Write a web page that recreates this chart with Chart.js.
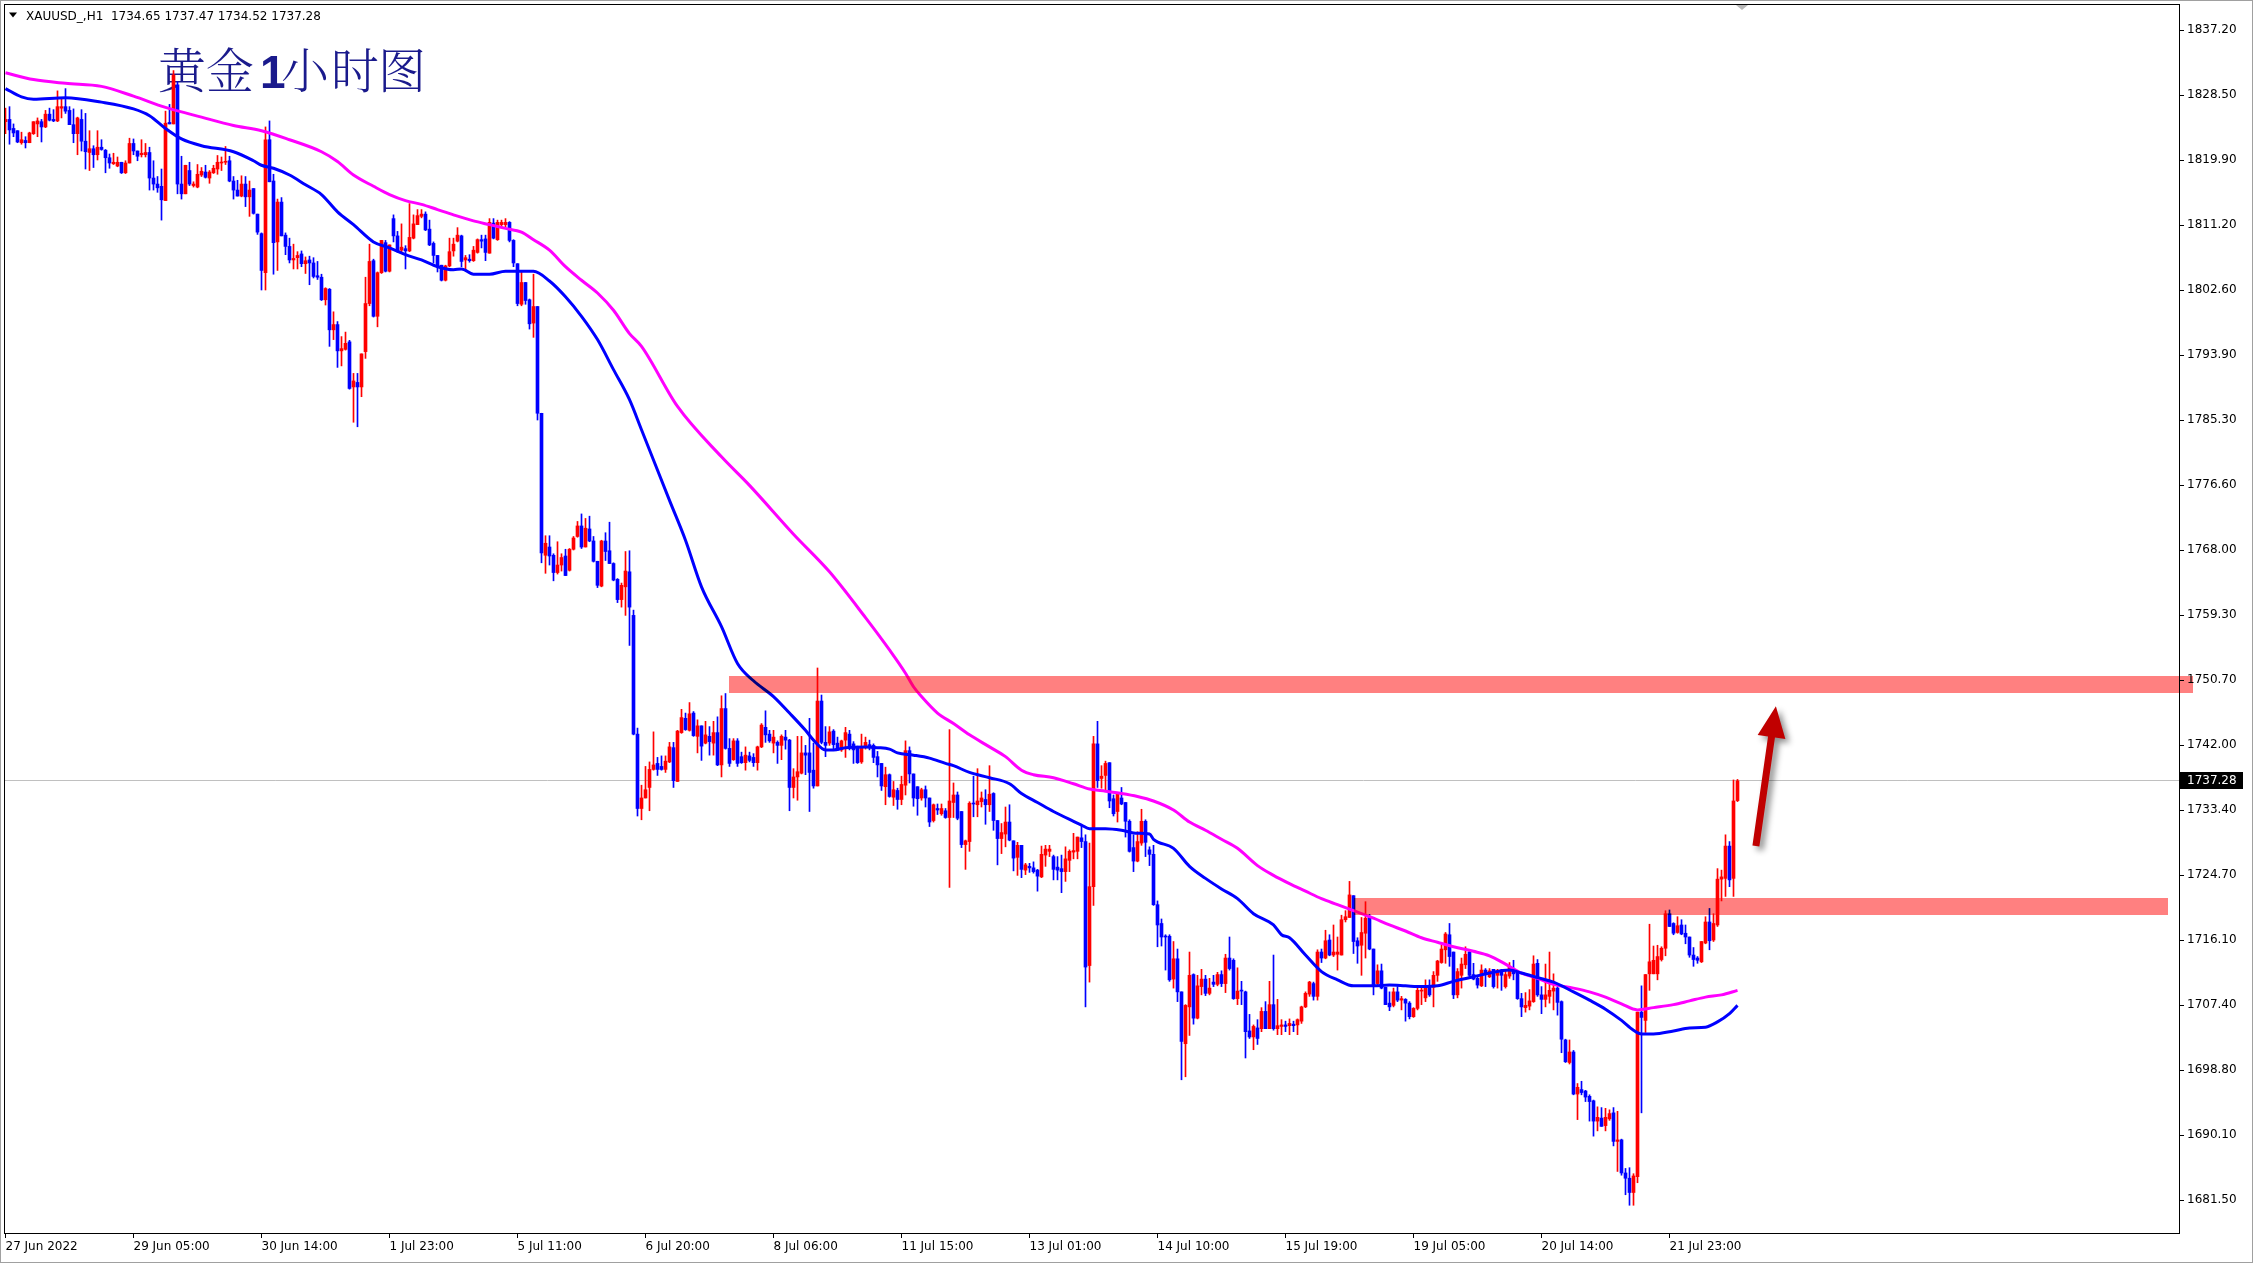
<!DOCTYPE html>
<html>
<head>
<meta charset="utf-8">
<script src="https://cdn.jsdelivr.net/npm/chart.js@4.4.0/dist/chart.umd.min.js"></script>
<style>
html,body{margin:0;padding:0;background:#fff;overflow:hidden}
#wrap{width:2253px;height:1263px;position:relative}
canvas{display:block}
</style>
</head>
<body>
<div id="wrap"><canvas id="c" width="2253" height="1263"></canvas></div>
<script>
// ---------------- DATA ----------------
const symbolInfo = "XAUUSD_,H1  1734.65 1737.47 1734.52 1737.28";
const titleText = "黄金1小时图";
const bidPrice = 1737.28;

const xTickLabels = ["27 Jun 2022","29 Jun 05:00","30 Jun 14:00","1 Jul 23:00","5 Jul 11:00","6 Jul 20:00","8 Jul 06:00","11 Jul 15:00","13 Jul 01:00","14 Jul 10:00","15 Jul 19:00","19 Jul 05:00","20 Jul 14:00","21 Jul 23:00"];
const xTickBars = [0,32,64,96,128,160,192,224,256,288,320,352,384,416];

const yTickValues = [1681.50,1690.15,1698.80,1707.45,1716.10,1724.75,1733.40,1742.05,1750.70,1759.35,1768.00,1776.65,1785.30,1793.95,1802.60,1811.25,1819.90,1828.55,1837.20];
const yTickLabels = ["1681.50","1690.10","1698.80","1707.40","1716.10","1724.70","1733.40","1742.00","1750.70","1759.30","1768.00","1776.60","1785.30","1793.90","1802.60","1811.20","1819.90","1828.50","1837.20"];

const opens = [
1825.0,1825.3,1824.1,1823.8,1822.2,1822.5,1822.2,1823.4,1824.7,1825.0,
1824.3,1826.0,1825.3,1825.1,1826.8,1827.0,1826.5,1824.6,1823.4,1825.3,
1822.4,1820.9,1821.4,1820.6,1821.6,1821.2,1820.2,1819.4,1819.1,1819.6,
1818.2,1819.5,1822.1,1821.1,1820.6,1820.6,1820.9,1817.5,1816.7,1816.4,
1814.5,1824.9,1824.7,1829.9,1816.7,1815.4,1818.5,1816.5,1816.3,1817.9,
1818.3,1817.5,1818.2,1818.7,1819.5,1819.6,1819.8,1817.1,1815.9,1815.1,
1816.7,1815.0,1816.1,1812.7,1810.1,1804.9,1822.6,1817.1,1809.0,1814.3,
1809.9,1808.4,1806.6,1806.9,1807.4,1806.1,1806.6,1806.2,1804.5,1804.3,
1801.3,1802.7,1797.3,1798.0,1794.5,1794.7,1795.7,1789.7,1790.3,1789.7,
1794.4,1800.8,1806.5,1799.1,1804.9,1808.9,1805.1,1812.1,1809.8,1807.9,
1808.1,1807.8,1809.5,1811.3,1812.4,1812.7,1810.7,1808.8,1807.2,1805.9,
1803.9,1805.8,1807.8,1809.1,1809.8,1806.6,1806.7,1806.5,1807.6,1809.3,
1809.4,1807.5,1811.5,1809.3,1811.3,1811.3,1811.6,1809.2,1806.1,1800.7,
1803.6,1801.3,1798.2,1800.4,1786.2,1767.3,1768.4,1767.3,1765.0,1766.0,
1767.2,1765.3,1768.1,1769.8,1771.2,1768.4,1770.8,1769.2,1766.5,1763.2,
1769.2,1767.9,1766.2,1764.1,1761.4,1763.1,1765.1,1759.3,1743.5,1733.6,
1735.0,1736.4,1738.8,1739.6,1739.2,1738.8,1739.8,1741.7,1737.2,1743.7,
1745.6,1744.0,1746.3,1743.2,1744.6,1742.3,1743.2,1742.3,1743.7,1739.4,
1746.9,1741.6,1740.1,1742.6,1740.5,1739.7,1740.6,1740.4,1739.7,1741.8,
1744.4,1743.5,1742.3,1742.4,1742.0,1743.1,1742.7,1736.4,1737.8,1738.3,
1741.0,1741.0,1738.7,1736.6,1747.9,1742.4,1742.3,1743.9,1742.3,1741.4,
1742.7,1743.5,1742.2,1741.8,1739.8,1741.7,1742.1,1742.0,1740.5,1739.6,
1736.5,1738.1,1735.1,1736.0,1734.8,1736.7,1741.3,1738.2,1736.5,1735.0,
1736.1,1735.0,1732.0,1733.6,1732.9,1733.3,1732.4,1734.4,1735.4,1733.2,
1728.8,1729.2,1734.3,1734.1,1734.5,1734.8,1734.1,1735.6,1732.0,1729.6,
1730.2,1731.8,1729.3,1727.1,1728.7,1725.4,1725.9,1725.7,1725.4,1724.5,
1727.4,1727.9,1727.2,1725.8,1725.6,1725.2,1726.7,1727.8,1727.9,1729.7,
1729.2,1712.7,1723.2,1742.2,1737.6,1738.0,1739.7,1734.9,1733.2,1735.0,
1734.4,1731.9,1728.4,1726.6,1729.0,1731.9,1728.1,1727.5,1720.8,1718.3,
1716.6,1716.6,1710.9,1713.6,1709.2,1702.3,1707.2,1711.5,1705.7,1709.9,
1710.9,1709.0,1710.5,1710.2,1711.5,1710.3,1713.7,1713.4,1708.3,1709.4,
1709.2,1704.0,1703.2,1704.4,1704.3,1706.6,1704.3,1707.5,1704.3,1704.6,
1704.8,1704.7,1704.9,1704.8,1705.3,1707.2,1708.9,1710.3,1708.6,1714.5,
1713.7,1716.1,1714.1,1714.2,1714.1,1718.8,1719.1,1722.0,1716.0,1715.4,
1717.0,1719.2,1714.9,1710.3,1712.0,1709.8,1707.7,1707.4,1709.2,1708.1,
1708.2,1707.7,1705.9,1707.0,1709.3,1708.4,1709.8,1709.8,1711.4,1713.1,
1714.8,1716.8,1714.5,1708.8,1711.4,1712.8,1714.5,1711.5,1711.0,1710.0,
1712.1,1711.2,1712.2,1711.4,1712.1,1709.9,1711.3,1712.2,1711.7,1708.3,
1707.1,1707.3,1707.9,1713.0,1708.8,1708.2,1708.6,1709.3,1709.7,1707.9,
1702.8,1699.8,1701.2,1695.6,1696.2,1696.0,1695.3,1694.7,1692.0,1692.4,
1691.4,1692.3,1693.1,1689.3,1689.5,1685.1,1684.4,1682.5,1684.6,1706.5,
1705.4,1711.6,1711.6,1711.6,1713.5,1715.0,1719.6,1718.3,1717.1,1718.1,
1717.0,1716.5,1714.1,1713.7,1713.2,1715.7,1718.5,1716.1,1718.1,1724.2,
1724.3,1728.6,1724.3,1734.65
];
const highs = [
1826.8,1827.0,1824.7,1823.8,1823.6,1823.0,1823.6,1825.0,1825.5,1825.3,
1826.5,1826.8,1826.6,1829.1,1828.1,1829.4,1827.0,1826.7,1825.6,1826.6,
1826.1,1823.8,1821.8,1823.8,1822.6,1821.3,1820.7,1820.8,1820.3,1819.6,
1819.8,1822.8,1822.7,1821.1,1822.6,1822.1,1821.6,1819.8,1817.7,1818.7,
1826.4,1827.3,1831.8,1830.3,1820.4,1819.2,1819.6,1817.0,1819.3,1818.9,
1819.2,1818.5,1819.2,1820.5,1820.3,1821.7,1820.4,1817.7,1817.2,1817.8,
1817.7,1817.1,1816.1,1812.7,1810.2,1824.3,1825.1,1818.0,1814.7,1814.9,
1810.2,1809.5,1808.7,1807.7,1807.8,1807.0,1807.1,1806.9,1806.4,1804.7,
1802.9,1802.8,1799.7,1798.4,1796.4,1797.0,1795.9,1791.5,1791.5,1794.1,
1804.3,1808.7,1806.7,1805.0,1809.2,1809.2,1808.6,1812.6,1810.4,1811.4,
1808.5,1814.1,1812.6,1813.3,1813.3,1813.0,1811.9,1809.0,1807.2,1805.9,
1805.9,1809.5,1809.5,1810.9,1809.9,1807.2,1807.3,1808.4,1809.4,1809.9,
1809.9,1812.1,1812.1,1811.9,1811.9,1812.1,1811.7,1809.3,1806.1,1805.0,
1803.6,1801.4,1804.7,1800.4,1786.2,1769.9,1769.9,1767.5,1769.1,1767.5,
1768.1,1768.2,1769.8,1771.8,1772.8,1772.2,1772.5,1769.8,1766.5,1769.3,
1770.3,1771.7,1766.3,1764.2,1763.6,1767.8,1767.9,1760.0,1744.3,1736.7,
1739.2,1739.8,1743.8,1740.4,1740.6,1740.6,1742.4,1742.4,1744.0,1746.8,
1746.3,1747.7,1746.5,1745.4,1744.6,1745.2,1744.5,1745.2,1745.8,1748.6,
1748.9,1742.9,1742.9,1742.9,1741.1,1741.8,1741.1,1740.9,1741.9,1744.9,
1746.6,1744.0,1744.0,1742.6,1743.4,1744.0,1742.8,1738.9,1743.2,1743.2,
1742.0,1745.6,1742.3,1752.3,1748.7,1744.5,1744.5,1744.1,1743.1,1742.7,
1744.4,1744.0,1742.5,1741.9,1743.5,1743.1,1742.7,1742.2,1741.2,1739.6,
1739.1,1738.2,1737.2,1736.3,1737.9,1742.6,1741.8,1738.2,1736.5,1736.3,
1736.6,1735.0,1734.2,1734.2,1734.2,1733.6,1744.1,1737.0,1735.8,1733.2,
1729.4,1734.5,1737.9,1738.9,1735.8,1736.1,1739.3,1735.7,1732.0,1731.6,
1733.8,1734.1,1729.3,1729.1,1728.7,1726.3,1726.3,1726.5,1725.5,1728.6,
1728.7,1728.7,1727.4,1727.2,1727.4,1728.5,1728.1,1730.3,1729.8,1731.4,
1730.1,1729.0,1743.2,1745.2,1739.3,1739.9,1739.7,1735.4,1735.6,1736.4,
1734.4,1732.1,1730.1,1730.5,1733.5,1732.1,1728.5,1728.7,1721.3,1718.9,
1716.8,1716.8,1715.9,1714.9,1709.2,1707.5,1714.5,1711.6,1711.4,1712.2,
1711.4,1711.0,1711.4,1711.8,1712.0,1714.2,1716.5,1713.6,1712.4,1710.6,
1709.3,1706.2,1704.8,1705.5,1707.1,1707.9,1710.6,1714.1,1708.2,1705.5,
1705.3,1705.6,1705.3,1705.6,1707.3,1709.2,1710.6,1710.5,1714.8,1714.9,
1717.4,1716.8,1718.1,1716.5,1719.4,1720.0,1723.9,1722.0,1716.4,1719.1,
1721.2,1719.5,1714.9,1712.8,1712.9,1709.8,1709.2,1709.7,1709.9,1708.6,
1708.3,1707.9,1707.1,1709.9,1709.9,1710.8,1710.8,1711.9,1713.4,1715.4,
1717.1,1718.3,1714.5,1712.3,1713.7,1715.2,1714.6,1713.0,1711.4,1712.8,
1712.3,1712.3,1712.2,1712.2,1712.2,1712.0,1713.1,1713.4,1712.0,1709.0,
1709.1,1709.5,1714.0,1713.5,1709.9,1712.9,1714.5,1711.6,1709.9,1708.0,
1702.9,1702.8,1701.4,1697.0,1697.3,1696.1,1695.5,1694.8,1693.9,1693.8,
1693.7,1693.5,1693.8,1693.3,1689.6,1685.7,1685.8,1685.0,1706.5,1710.0,
1711.5,1718.2,1715.3,1715.4,1715.2,1720.0,1720.1,1718.4,1719.2,1718.8,
1718.1,1716.5,1715.1,1713.9,1715.9,1719.2,1720.3,1719.6,1725.6,1725.4,
1730.1,1729.2,1737.4,1737.47
];
const lows = [
1823.4,1822.0,1823.0,1822.2,1822.0,1821.5,1822.2,1823.3,1823.0,1822.3,
1824.2,1825.1,1825.0,1825.0,1825.5,1826.1,1824.6,1822.2,1820.6,1821.1,
1818.7,1818.5,1818.9,1819.9,1821.2,1818.2,1818.8,1819.3,1819.0,1818.1,
1818.1,1819.5,1820.6,1819.8,1820.3,1820.3,1815.9,1815.9,1815.6,1811.9,
1814.5,1824.7,1824.7,1815.4,1814.7,1815.4,1816.5,1816.3,1816.2,1817.7,
1817.5,1816.8,1818.1,1818.0,1818.5,1819.3,1817.0,1814.7,1815.1,1815.0,
1813.7,1812.4,1812.7,1810.0,1802.6,1802.6,1817.0,1804.7,1805.2,1809.8,
1807.3,1806.2,1805.4,1805.4,1805.7,1804.8,1803.3,1804.2,1804.0,1801.2,
1800.6,1795.1,1796.0,1792.3,1792.5,1794.6,1789.4,1785.0,1784.4,1788.4,
1793.5,1800.5,1799.0,1797.7,1804.8,1805.0,1805.0,1809.0,1807.6,1807.7,
1805.4,1807.7,1809.4,1811.3,1812.2,1810.5,1808.5,1806.2,1805.0,1803.8,
1803.8,1805.7,1807.1,1809.0,1805.7,1805.3,1806.3,1806.4,1807.5,1808.2,
1806.5,1807.5,1809.4,1809.2,1811.0,1811.0,1809.0,1805.7,1800.5,1800.5,
1800.7,1797.4,1796.3,1785.3,1766.3,1764.9,1766.0,1763.9,1764.8,1765.2,
1764.6,1765.2,1768.0,1769.7,1768.2,1768.4,1769.1,1766.4,1763.0,1763.1,
1766.6,1766.2,1763.9,1761.0,1760.4,1759.3,1755.3,1743.4,1732.6,1732.1,
1735.0,1733.3,1738.7,1738.0,1738.7,1738.4,1739.7,1736.4,1737.2,1743.6,
1744.0,1743.9,1743.2,1741.0,1740.0,1742.2,1740.7,1740.7,1739.3,1737.8,
1741.5,1739.2,1740.0,1739.2,1739.6,1738.7,1739.8,1739.2,1738.7,1741.7,
1742.4,1742.4,1741.0,1739.6,1740.1,1741.5,1733.3,1735.0,1734.7,1738.2,
1738.1,1733.2,1736.3,1736.6,1742.2,1740.5,1742.0,1741.4,1741.3,1741.2,
1740.4,1741.4,1739.6,1739.6,1739.6,1741.5,1741.4,1739.7,1737.8,1736.0,
1734.1,1735.1,1734.0,1733.5,1734.1,1735.4,1737.0,1733.9,1732.7,1734.7,
1733.8,1731.2,1731.8,1732.8,1732.7,1732.3,1723.1,1732.4,1732.1,1728.4,
1725.5,1727.9,1732.5,1732.5,1733.8,1731.5,1733.2,1730.7,1726.1,1727.6,
1728.5,1729.3,1725.3,1724.7,1724.4,1724.8,1725.1,1725.0,1722.6,1724.4,
1725.9,1727.2,1724.1,1724.1,1722.4,1723.9,1725.2,1726.9,1726.9,1728.4,
1707.2,1710.5,1720.7,1736.4,1736.3,1736.1,1733.7,1732.6,1731.8,1734.1,
1729.8,1727.8,1725.2,1726.5,1728.7,1727.2,1726.0,1720.7,1715.2,1715.3,
1712.1,1710.6,1709.7,1707.9,1697.5,1697.9,1703.4,1704.9,1705.6,1708.8,
1708.7,1708.8,1709.9,1710.0,1709.9,1709.1,1712.1,1708.2,1707.5,1707.5,
1700.4,1703.0,1701.5,1702.2,1703.9,1704.3,1704.3,1704.1,1703.5,1703.5,
1703.9,1703.5,1703.9,1703.5,1705.0,1707.1,1708.6,1708.1,1708.1,1713.1,
1713.6,1714.0,1713.9,1712.1,1714.1,1718.5,1719.1,1714.3,1713.0,1711.4,
1713.7,1714.8,1708.8,1709.9,1709.6,1707.5,1706.7,1707.2,1707.9,1706.8,
1705.3,1705.6,1705.8,1706.8,1707.5,1707.9,1708.6,1707.2,1710.6,1713.0,
1713.0,1712.6,1708.3,1708.4,1709.7,1712.3,1711.2,1710.8,1709.7,1709.9,
1709.9,1711.1,1709.7,1709.7,1709.4,1709.7,1711.0,1710.8,1708.2,1705.9,
1706.5,1706.8,1707.8,1708.6,1706.3,1707.2,1707.7,1706.8,1706.1,1701.1,
1699.8,1699.6,1695.5,1692.2,1695.5,1694.6,1692.0,1690.0,1690.7,1691.3,
1690.7,1692.1,1688.7,1685.3,1684.8,1682.2,1680.8,1680.8,1683.8,1693.1,
1703.8,1709.4,1711.6,1710.8,1713.3,1714.0,1717.9,1716.8,1717.0,1716.8,
1715.6,1713.8,1712.6,1713.0,1713.1,1715.6,1714.8,1715.9,1717.9,1721.3,
1721.9,1723.2,1721.9,1734.52
];
const closes = [
1825.3,1823.9,1823.5,1822.3,1822.6,1822.2,1823.5,1825.0,1825.1,1824.3,
1826.0,1825.2,1825.1,1827.0,1827.0,1826.4,1824.6,1823.4,1825.5,1822.4,
1821.0,1821.4,1820.6,1821.6,1821.3,1820.2,1819.5,1819.6,1819.6,1818.2,
1819.5,1822.1,1821.1,1820.4,1820.8,1820.9,1817.5,1816.7,1816.2,1814.6,
1824.8,1824.7,1831.2,1816.7,1815.4,1819.2,1816.7,1816.7,1818.0,1818.4,
1817.6,1818.3,1818.8,1819.6,1819.6,1819.7,1817.1,1815.9,1815.1,1816.7,
1815.0,1815.9,1812.8,1810.3,1805.2,1822.6,1817.0,1808.9,1814.3,1809.8,
1808.4,1806.6,1806.8,1807.2,1806.1,1806.5,1806.2,1804.4,1804.3,1801.3,
1802.8,1797.3,1798.0,1794.5,1794.8,1795.5,1789.5,1790.5,1789.7,1794.1,
1800.8,1806.4,1799.1,1804.9,1809.2,1805.1,1808.6,1809.8,1807.7,1808.3,
1807.8,1809.6,1811.4,1812.5,1812.7,1810.6,1808.6,1807.2,1805.8,1803.9,
1805.8,1807.7,1808.7,1809.9,1806.4,1806.9,1806.5,1807.9,1809.3,1809.1,
1807.6,1811.6,1809.5,1811.6,1811.6,1811.6,1809.2,1806.2,1800.8,1803.6,
1801.2,1798.1,1800.4,1786.2,1767.6,1768.9,1767.2,1765.0,1766.0,1767.0,
1764.6,1768.1,1769.6,1771.2,1768.4,1770.9,1769.2,1766.5,1763.3,1769.2,
1767.8,1766.2,1764.0,1761.4,1763.3,1765.2,1760.4,1743.5,1733.6,1735.0,
1736.1,1738.8,1739.4,1738.8,1738.8,1739.9,1741.8,1737.3,1743.9,1745.7,
1744.1,1746.2,1743.3,1744.6,1741.9,1743.4,1742.5,1743.7,1739.4,1746.9,
1741.6,1739.6,1742.6,1739.6,1739.7,1740.7,1740.0,1739.7,1741.8,1744.7,
1743.4,1742.6,1743.1,1742.0,1743.2,1742.7,1736.4,1737.8,1738.5,1741.0,
1740.7,1738.4,1736.6,1747.9,1742.4,1742.0,1743.8,1742.1,1741.4,1742.6,
1743.7,1741.8,1741.4,1739.7,1741.7,1742.4,1741.9,1740.4,1739.4,1736.6,
1738.1,1735.2,1736.1,1734.8,1736.8,1741.3,1738.2,1735.0,1734.9,1736.1,
1735.0,1731.8,1734.1,1733.4,1733.6,1732.4,1734.6,1735.4,1732.3,1728.8,
1729.3,1734.3,1734.2,1734.6,1735.0,1734.1,1735.5,1732.0,1729.6,1730.4,
1731.8,1729.4,1727.0,1728.7,1725.5,1726.1,1725.7,1725.2,1724.6,1727.5,
1728.2,1728.2,1725.5,1725.4,1725.2,1726.9,1727.9,1728.0,1729.8,1729.2,
1712.5,1723.2,1742.2,1737.3,1737.9,1739.6,1734.6,1732.9,1735.5,1734.2,
1731.9,1727.9,1726.6,1729.2,1731.9,1729.1,1727.5,1720.8,1718.1,1716.5,
1716.5,1710.8,1713.6,1709.2,1702.6,1707.4,1711.4,1705.7,1710.0,1710.9,
1709.0,1709.7,1710.2,1711.5,1710.3,1713.7,1712.3,1708.3,1709.3,1709.3,
1703.9,1703.2,1704.6,1703.0,1706.6,1704.3,1707.5,1704.3,1704.7,1704.8,
1704.6,1705.0,1704.7,1705.5,1707.2,1709.0,1710.5,1708.6,1714.5,1713.7,
1716.0,1714.1,1714.5,1714.5,1718.8,1719.2,1722.1,1715.9,1715.3,1717.1,
1719.0,1714.9,1709.9,1712.0,1709.7,1707.5,1707.2,1709.2,1708.1,1708.3,
1707.7,1705.9,1707.0,1709.4,1709.4,1709.7,1708.8,1711.4,1713.3,1714.9,
1716.9,1713.9,1708.8,1711.9,1712.9,1714.2,1711.4,1710.9,1710.1,1712.1,
1711.5,1712.0,1709.9,1711.9,1711.4,1711.5,1712.6,1711.6,1708.3,1707.2,
1707.4,1708.0,1712.9,1708.8,1708.2,1708.8,1709.4,1709.7,1707.8,1702.9,
1699.9,1701.2,1695.6,1696.5,1695.8,1695.2,1694.6,1692.0,1692.5,1691.3,
1692.5,1693.0,1689.3,1689.5,1685.1,1684.4,1682.5,1684.7,1706.5,1705.8,
1711.5,1713.2,1713.4,1713.9,1715.0,1719.6,1717.9,1717.0,1718.0,1716.9,
1716.5,1714.1,1713.5,1713.4,1715.9,1718.5,1716.0,1718.3,1724.2,1724.5,
1728.6,1724.1,1734.6,1737.28
];

// Moving averages (sampled along the curves)
const maFastBars = [0,4,7,15,24,32,36,40,44,49,57,62,64,67,71,75,79,83,87,92,96,100,104,108,112,114,117,121,125,128,132,136,140,144,148,152,156,159,166,170,174,179,183,187,192,196,200,202,205,207,210,215,218,221,223,227,231,235,237,241,246,251,254,258,262,267,269,271,275,279,283,286,287,292,296,300,304,308,312,317,319,321,325,329,333,337,342,346,350,354,358,362,367,371,376,379,383,387,392,396,400,404,407,409,412,417,421,425,428,431,433];
const maFastVals = [1829.4,1828.3,1828.0,1828.2,1827.6,1826.7,1825.8,1824.1,1822.7,1821.8,1821.0,1819.8,1819.2,1818.8,1817.9,1816.6,1815.3,1813.0,1811.3,1809.0,1808.2,1807.3,1806.6,1805.7,1805.3,1805.4,1804.7,1804.7,1805.1,1805.1,1805.1,1803.8,1801.7,1799.1,1796.0,1792.0,1788.0,1784.0,1774.6,1769.3,1763.1,1757.8,1752.9,1750.6,1748.5,1746.3,1744.0,1742.7,1741.4,1741.4,1741.7,1741.8,1741.7,1741.5,1741.0,1740.7,1740.3,1739.6,1739.3,1738.4,1737.7,1736.9,1735.6,1734.4,1733.2,1731.9,1731.4,1730.9,1730.9,1730.7,1730.3,1730.2,1729.5,1728.3,1725.9,1724.3,1722.9,1721.6,1719.6,1718.1,1716.8,1716.4,1714.1,1711.9,1710.8,1710.0,1710.0,1710.1,1710.0,1709.9,1710.0,1710.6,1711.2,1711.7,1712.1,1711.7,1711.1,1710.5,1709.2,1708.1,1706.9,1705.4,1704.1,1703.6,1703.6,1704.0,1704.4,1704.5,1705.2,1706.3,1707.4];
const maSlowBars = [0,7,15,24,32,40,49,57,64,71,79,83,87,92,96,100,104,108,112,117,121,125,129,132,136,140,144,148,152,156,159,168,179,186,197,206,215,221,225,227,229,233,237,241,246,250,254,257,262,267,271,275,279,283,287,292,296,300,304,308,313,317,321,325,329,333,337,342,346,350,354,358,362,367,371,375,379,383,387,392,396,400,404,408,412,417,421,425,429,433];
const maSlowVals = [1831.5,1830.6,1830.1,1829.7,1828.4,1826.9,1825.6,1824.5,1823.8,1822.6,1821.0,1819.7,1817.9,1816.4,1815.3,1814.5,1814.0,1813.3,1812.6,1811.8,1811.3,1810.8,1810.3,1809.3,1807.9,1805.7,1803.9,1802.2,1799.9,1796.8,1795.1,1787.1,1780.4,1776.6,1770.1,1765.1,1759.0,1754.7,1751.6,1749.8,1748.5,1746.3,1744.9,1743.4,1741.8,1740.5,1738.7,1738.1,1737.7,1736.9,1736.2,1735.9,1735.6,1735.2,1734.6,1733.4,1731.8,1730.7,1729.5,1728.3,1726.0,1724.7,1723.6,1722.6,1721.6,1720.8,1720.0,1719.0,1718.1,1717.3,1716.4,1715.8,1715.2,1714.6,1714.0,1712.9,1711.7,1711.0,1710.2,1709.7,1709.2,1708.5,1707.6,1706.8,1707.1,1707.5,1708.0,1708.5,1708.8,1709.4];

// Annotations (in bar index / price units)
const zoneUpper = {fromBar:180.75, toBar:546.75, hi:1751.25, lo:1749.0};
const zoneLower = {fromBar:337.1, toBar:540.6, hi:1721.7, lo:1719.4};
const arrowFrom = {bar:437.6, price:1728.6};
const arrowTo = {bar:442.6, price:1747.2};

// ---------------- BUILD ----------------
const idx = opens.map((_, i) => i);
const candleColors = idx.map(i => closes[i] >= opens[i] ? '#ff0000' : '#0000ff');
const bodyData = idx.map(i => ({x: i, y: [opens[i], closes[i]]}));
const wickData = idx.map(i => ({x: i, y: [lows[i], highs[i]]}));
const fastData = maFastBars.map((b, k) => ({x: b, y: maFastVals[k]}));
const slowData = maSlowBars.map((b, k) => ({x: b, y: maSlowVals[k]}));

const UI_FONT = '"DejaVu Sans", "Liberation Sans", sans-serif';

const extras = {
  id: 'extras',
  beforeDatasetsDraw(chart) {
    const {ctx, chartArea: a, scales: {y}} = chart;
    ctx.save();
    // bid line
    const yb = Math.floor(y.getPixelForValue(bidPrice)) + 0.5;
    ctx.strokeStyle = '#c0c0c0';
    ctx.lineWidth = 1;
    ctx.beginPath(); ctx.moveTo(a.left, yb); ctx.lineTo(a.right, yb); ctx.stroke();
    // title
    ctx.fillStyle = '#1a1a8c';
    ctx.textBaseline = 'alphabetic';
    ctx.textAlign = 'left';
    const tx = [158, 206, 260, 281, 331, 378];
    [...titleText].forEach((ch, k) => {
      ctx.font = (ch === '1')
        ? 'bold 46px "Liberation Sans", sans-serif'
        : '300 48px "Noto Serif CJK SC", "Noto Sans CJK SC", sans-serif';
      ctx.fillText(ch, tx[k], 88);
    });
    ctx.restore();
  },
  afterDatasetsDraw(chart) {
    const {ctx, scales: {x, y}} = chart;
    ctx.save();
    ctx.globalCompositeOperation = 'multiply';
    ctx.fillStyle = '#ff8080';
    [zoneUpper, zoneLower].forEach(z => {
      const x0 = Math.round(x.getPixelForValue(z.fromBar));
      const x1 = Math.round(x.getPixelForValue(z.toBar));
      const y0 = Math.round(y.getPixelForValue(z.hi));
      const y1 = Math.round(y.getPixelForValue(z.lo));
      ctx.fillRect(x0, y0, x1 - x0, y1 - y0);
    });
    ctx.restore();

    // arrow
    const p0 = [x.getPixelForValue(arrowFrom.bar), y.getPixelForValue(arrowFrom.price)];
    const p1 = [x.getPixelForValue(arrowTo.bar), y.getPixelForValue(arrowTo.price)];
    const dx = p1[0] - p0[0], dy = p1[1] - p0[1];
    const len = Math.hypot(dx, dy);
    const ux = dx / len, uy = dy / len, nx = -uy, ny = ux;
    const headLen = 31, headHalf = 14, shaftHalf = 3.5;
    const bx = p1[0] - ux * headLen, by = p1[1] - uy * headLen;
    ctx.save();
    ctx.shadowColor = 'rgba(0,0,0,0.45)';
    ctx.shadowBlur = 6; ctx.shadowOffsetX = 4; ctx.shadowOffsetY = 4;
    ctx.fillStyle = '#c00000';
    ctx.beginPath();
    ctx.moveTo(p0[0] + nx * shaftHalf, p0[1] + ny * shaftHalf);
    ctx.lineTo(bx + nx * shaftHalf, by + ny * shaftHalf);
    ctx.lineTo(bx + nx * headHalf, by + ny * headHalf);
    ctx.lineTo(p1[0], p1[1]);
    ctx.lineTo(bx - nx * headHalf, by - ny * headHalf);
    ctx.lineTo(bx - nx * shaftHalf, by - ny * shaftHalf);
    ctx.lineTo(p0[0] - nx * shaftHalf, p0[1] - ny * shaftHalf);
    ctx.closePath();
    ctx.fill();
    ctx.restore();
  },
  afterDraw(chart) {
    const {ctx, chartArea: a, scales: {y}} = chart;
    ctx.save();
    // outer window border
    ctx.strokeStyle = '#a0a0a0'; ctx.lineWidth = 1;
    ctx.strokeRect(0.5, 0.5, chart.width - 1, chart.height - 1);
    // chart frame
    ctx.strokeStyle = '#000';
    ctx.strokeRect(a.left + 0.5, a.top + 0.5, a.right - a.left, a.bottom - a.top);
    // shift marker
    ctx.fillStyle = '#b8b8b8';
    ctx.beginPath(); ctx.moveTo(1736, 5); ctx.lineTo(1748, 5); ctx.lineTo(1742, 10); ctx.closePath(); ctx.fill();
    // info line
    ctx.fillStyle = '#000';
    ctx.beginPath(); ctx.moveTo(9, 12.5); ctx.lineTo(17, 12.5); ctx.lineTo(13, 17.5); ctx.closePath(); ctx.fill();
    ctx.font = '12px ' + UI_FONT;
    ctx.textBaseline = 'alphabetic'; ctx.textAlign = 'left';
    ctx.fillText(symbolInfo, 26, 20);
    // current price box
    const yp = y.getPixelForValue(bidPrice);
    ctx.fillStyle = '#000';
    ctx.fillRect(a.right + 1, Math.round(yp) - 9, 63, 17);
    ctx.fillStyle = '#fff';
    ctx.textBaseline = 'middle';
    ctx.fillText(bidPrice.toFixed(2), a.right + 8, Math.round(yp));
    ctx.restore();
  }
};

new Chart(document.getElementById('c'), {
  type: 'bar',
  data: {
    datasets: [
      {type: 'line', label: 'MA fast', data: fastData, borderColor: '#0000ff', borderWidth: 3, pointRadius: 0, cubicInterpolationMode: 'monotone', fill: false, order: 0},
      {type: 'line', label: 'MA slow', data: slowData, borderColor: '#ff00ff', borderWidth: 3, pointRadius: 0, cubicInterpolationMode: 'monotone', fill: false, order: 0},
      {label: 'wick', data: wickData, backgroundColor: candleColors, borderWidth: 0, grouped: false, barPercentage: 1, categoryPercentage: 1, barThickness: 1, maxBarThickness: 1, order: 2},
      {label: 'body', data: bodyData, backgroundColor: candleColors, borderWidth: 0, grouped: false, barPercentage: 1, categoryPercentage: 1, barThickness: 3, maxBarThickness: 3, minBarLength: 1, order: 1}
    ]
  },
  options: {
    responsive: false,
    animation: false,
    devicePixelRatio: 1,
    layout: {padding: {left: 4, top: 4, right: 0, bottom: 0}},
    plugins: {legend: {display: false}, tooltip: {enabled: false}},
    scales: {
      x: {
        type: 'linear', position: 'bottom', min: -0.375, max: 543.375, offset: false,
        grid: {display: true, drawOnChartArea: false, drawTicks: true, tickLength: 5, color: '#000', offset: false},
        border: {display: false},
        ticks: {autoSkip: false, maxRotation: 0, minRotation: 0, align: 'start', padding: 2, color: '#000',
                font: {family: UI_FONT, size: 12}, callback: (v, i) => xTickLabels[i]},
        afterBuildTicks: s => { s.ticks = xTickBars.map(v => ({value: v})); },
        afterFit: s => { s.height = 30; s.paddingLeft = 0; s.paddingRight = 0; s.paddingTop = 0; s.paddingBottom = 0; }
      },
      y: {
        type: 'linear', position: 'right', min: 1677.11, max: 1840.66, beginAtZero: false,
        grid: {display: true, drawOnChartArea: false, drawTicks: true, tickLength: 5, color: '#000'},
        border: {display: false},
        ticks: {autoSkip: false, padding: 3, color: '#000', font: {family: UI_FONT, size: 12},
                callback: (v, i) => yTickLabels[i]},
        afterBuildTicks: s => { s.ticks = yTickValues.map(v => ({value: v})); },
        afterFit: s => { s.width = 74; s.paddingLeft = 0; s.paddingRight = 0; s.paddingTop = 0; s.paddingBottom = 0; }
      }
    }
  },
  plugins: [extras]
});
</script>
</body>
</html>
